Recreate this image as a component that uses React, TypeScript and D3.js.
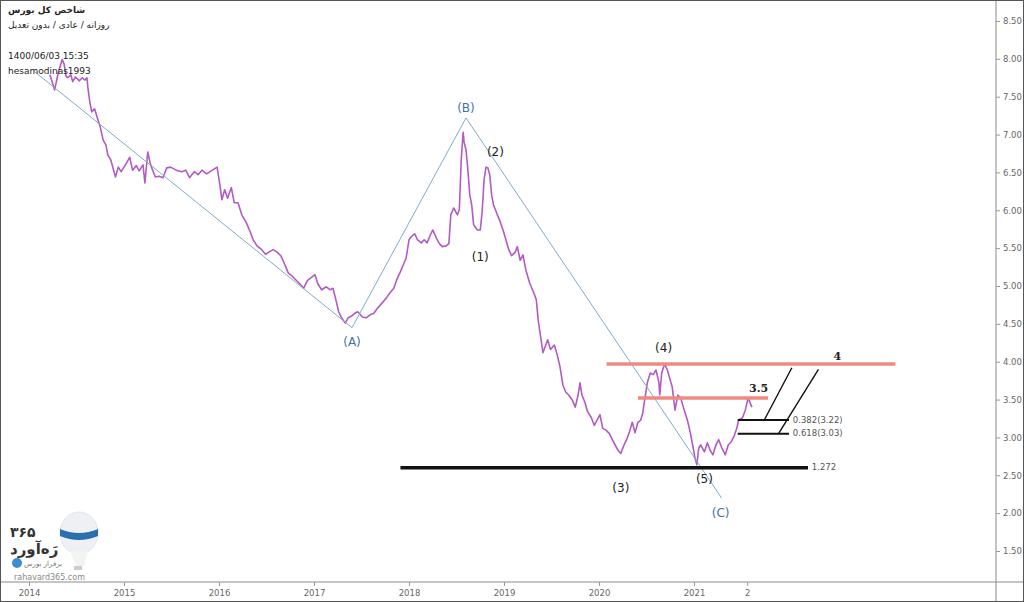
import { useEffect, useRef } from 'react';
import * as d3 from 'd3';

// price series (decimal year, index value in millions)
const years = [
  2014.22, 2014.27, 2014.31, 2014.35, 2014.37, 2014.39, 2014.41, 2014.44, 2014.46, 2014.49,
  2014.53, 2014.56, 2014.59, 2014.61, 2014.62, 2014.64, 2014.66, 2014.69, 2014.72, 2014.75,
  2014.78, 2014.81, 2014.83, 2014.86, 2014.91, 2014.94, 2014.97, 2015.01, 2015.06, 2015.09,
  2015.13, 2015.16, 2015.2, 2015.22, 2015.25, 2015.28, 2015.33, 2015.37, 2015.41, 2015.45,
  2015.49, 2015.55, 2015.61, 2015.65, 2015.69, 2015.74, 2015.78, 2015.82, 2015.87, 2015.93,
  2015.98, 2016.01, 2016.03, 2016.06, 2016.09, 2016.13, 2016.16, 2016.2, 2016.24, 2016.29,
  2016.33, 2016.36, 2016.4, 2016.45, 2016.49, 2016.53, 2016.57, 2016.61, 2016.65, 2016.68,
  2016.73, 2016.77, 2016.81, 2016.85, 2016.89, 2016.93, 2016.97, 2017.01, 2017.04, 2017.08,
  2017.13, 2017.17, 2017.2, 2017.23, 2017.26, 2017.29, 2017.33, 2017.36, 2017.39, 2017.43,
  2017.46, 2017.51, 2017.55, 2017.59, 2017.63, 2017.67, 2017.72, 2017.76, 2017.8, 2017.84,
  2017.87, 2017.91, 2017.94, 2017.97, 2018.0, 2018.03, 2018.06, 2018.09, 2018.13, 2018.16,
  2018.19, 2018.22, 2018.25, 2018.29, 2018.32, 2018.35, 2018.39, 2018.42, 2018.44, 2018.47,
  2018.51, 2018.53, 2018.55, 2018.57, 2018.58, 2018.6, 2018.62, 2018.64, 2018.66, 2018.68,
  2018.72, 2018.75, 2018.77, 2018.79, 2018.81, 2018.83, 2018.85, 2018.87, 2018.89, 2018.93,
  2018.96, 2018.99, 2019.02, 2019.05, 2019.08, 2019.12, 2019.14, 2019.17, 2019.2, 2019.23,
  2019.27, 2019.31, 2019.34, 2019.36, 2019.39, 2019.41, 2019.44, 2019.46, 2019.49, 2019.53,
  2019.56, 2019.59, 2019.62, 2019.65, 2019.68, 2019.72, 2019.75, 2019.78, 2019.8, 2019.82,
  2019.85, 2019.88, 2019.92, 2019.95, 2019.98, 2020.01, 2020.04, 2020.07, 2020.11, 2020.14,
  2020.17, 2020.2, 2020.23, 2020.26, 2020.29, 2020.32, 2020.35, 2020.38, 2020.41, 2020.44,
  2020.46, 2020.48, 2020.51, 2020.54, 2020.57, 2020.6, 2020.63, 2020.64, 2020.66, 2020.69,
  2020.72, 2020.74, 2020.77, 2020.8, 2020.83, 2020.86, 2020.89, 2020.93, 2020.96, 2020.99,
  2021.01, 2021.03, 2021.05, 2021.07, 2021.11, 2021.14, 2021.17, 2021.2, 2021.23, 2021.26,
  2021.29, 2021.33, 2021.36, 2021.39, 2021.42, 2021.45, 2021.47, 2021.51, 2021.54, 2021.57,
  2021.59, 2021.61,
];
const prices = [
  7.79, 7.59, 7.83, 7.99, 7.93, 7.77, 7.75, 7.79, 7.7, 7.76,
  7.71, 7.75, 7.72, 7.75, 7.62, 7.43, 7.3, 7.34, 7.22, 7.1,
  6.93, 6.86, 6.73, 6.67, 6.44, 6.57, 6.51, 6.59, 6.7, 6.53,
  6.59, 6.52, 6.6, 6.36, 6.77, 6.6, 6.44, 6.45, 6.43, 6.56,
  6.57, 6.53, 6.51, 6.53, 6.43, 6.51, 6.47, 6.53, 6.48, 6.53,
  6.57, 6.33, 6.14, 6.27, 6.16, 6.3, 6.1, 6.1, 5.94, 5.83,
  5.71, 5.61, 5.53, 5.48, 5.42, 5.45, 5.48, 5.45, 5.4, 5.32,
  5.17, 5.13, 5.08, 5.03, 4.97, 5.07, 5.11, 5.15, 5.03, 4.95,
  4.99, 4.95, 4.97, 4.82, 4.66, 4.58, 4.51, 4.58, 4.6, 4.64,
  4.66, 4.59, 4.58, 4.62, 4.64, 4.71, 4.78, 4.84, 4.91, 4.97,
  5.08, 5.19, 5.28, 5.37, 5.61, 5.66, 5.69, 5.61, 5.57, 5.61,
  5.57, 5.66, 5.74, 5.63, 5.56, 5.52, 5.53, 5.56, 5.94, 6.03,
  5.94, 6.01, 6.67, 7.03, 6.9, 6.8, 6.53, 6.2, 6.07, 5.81,
  5.74, 5.74, 5.98, 6.4, 6.57, 6.56, 6.47, 6.2, 6.07, 5.94,
  5.85, 5.74, 5.61, 5.48, 5.4, 5.45, 5.52, 5.34, 5.41, 5.21,
  5.04, 4.92, 4.82, 4.55, 4.29, 4.12, 4.22, 4.29, 4.16, 4.22,
  4.09, 3.93, 3.69, 3.6, 3.56, 3.49, 3.4, 3.56, 3.72, 3.56,
  3.47, 3.34, 3.26, 3.16, 3.23, 3.3, 3.12, 3.1, 3.05, 2.97,
  2.9, 2.83, 2.79, 2.89, 2.97, 3.07, 3.2, 3.06, 3.2, 3.23,
  3.32, 3.49, 3.73, 3.85, 3.83, 3.89, 3.73, 3.56, 3.85, 3.97,
  3.89, 3.8, 3.67, 3.36, 3.56, 3.52, 3.39, 3.23, 3.07, 2.87,
  2.73, 2.64, 2.86, 2.9, 2.81, 2.93, 2.83, 2.77, 2.9, 2.97,
  2.87, 2.77, 2.9, 2.94, 3.01, 3.12, 3.23, 3.26, 3.36, 3.52,
  3.46, 3.4,
];

// Elliott ABC wave lines
const waveYears = [2014.06, 2017.4, 2018.6, 2021.29];
const waveValues = [7.83, 4.45, 7.22, 2.2];

// horizontal levels [fromYear, toYear, value]
const redLevels = [[2020.08, 2023.12, 3.97], [2020.41, 2021.78, 3.52]];
const blackLevels = [[2017.91, 2022.2, 2.6]];
const fibLevels = [[2021.46, 2022.0, 3.23], [2021.46, 2022.0, 3.05]];
const fibDiagonals = [[2021.74, 3.23, 2022.03, 3.92], [2021.89, 3.05, 2022.31, 3.9]];

const waveLabels = ['(1)', '(2)', '(3)', '(4)', '(5)'];
const waveLabelYears = [2018.75, 2018.91, 2020.23, 2020.68, 2021.11];
const waveLabelValues = [5.37, 6.76, 2.33, 4.17, 2.44];
const abcLabels = ['(A)', '(B)', '(C)'];
const abcLabelYears = [2017.4, 2018.6, 2021.28];
const abcLabelValues = [4.25, 7.35, 1.99];

const levelTexts = ['0.382(3.22)', '0.618(3.03)', '1.272'];
const levelTextYears = [2022.04, 2022.04, 2022.24];
const levelTextValues = [3.23, 3.05, 2.6];

const yTicks = [1.5, 2, 2.5, 3, 3.5, 4, 4.5, 5, 5.5, 6, 6.5, 7, 7.5, 8, 8.5];
const xTicks = [2014, 2015, 2016, 2017, 2018, 2019, 2020, 2021, 2021.56];
const xTickLabels = ['2014', '2015', '2016', '2017', '2018', '2019', '2020', '2021', '2'];

const W = 1024;
const H = 602;

const App = () => {
  const ref = useRef<SVGSVGElement>(null);

  useEffect(() => {
    const svg = d3.select(ref.current);
    svg.selectAll('*').remove();

    const x = d3.scaleLinear().domain([2015, 2021]).range([124, 694]);
    const y = d3.scaleLinear().domain([1.5, 8.5]).range([551, 21]);

    svg.append('rect').attr('x', 0).attr('y', 0).attr('width', W).attr('height', H).attr('fill', '#fff');

    // axes separators
    svg.append('line').attr('x1', 996).attr('x2', 996).attr('y1', 0).attr('y2', H).attr('stroke', '#8a8a8a');
    svg.append('line').attr('x1', 0).attr('x2', W).attr('y1', 582).attr('y2', 582).attr('stroke', '#8a8a8a');

    const yAxis = d3.axisRight(y).tickValues(yTicks).tickFormat(d3.format('.2f')).tickSize(4).tickPadding(3);
    const gy = svg.append('g').attr('transform', 'translate(996,0)').call(yAxis);
    gy.select('.domain').remove();
    gy.selectAll('line').attr('stroke', '#999');
    gy.selectAll('text').attr('fill', '#666').style('font-size', '8.5px').style('font-family', 'DejaVu Sans, sans-serif');

    const xAxis = d3.axisBottom(x).tickValues(xTicks).tickFormat((d, i) => xTickLabels[i]).tickSize(4).tickPadding(4);
    const gx = svg.append('g').attr('transform', 'translate(0,582)').call(xAxis);
    gx.select('.domain').remove();
    gx.selectAll('line').attr('stroke', '#999');
    gx.selectAll('text').attr('fill', '#666').style('font-size', '8.5px').style('font-family', 'DejaVu Sans, sans-serif');

    // price line
    const line = d3.line<number>().x((d, i) => x(years[i])).y((d) => y(d)).curve(d3.curveLinear);
    svg.append('path').attr('d', line(prices)).attr('fill', 'none').attr('stroke', '#b15bc3').attr('stroke-width', 1.6).attr('stroke-linejoin', 'round');

    // wave lines
    const wline = d3.line<number>().x((d, i) => x(waveYears[i])).y((d) => y(d));
    svg.append('path').attr('d', wline(waveValues)).attr('fill', 'none').attr('stroke', '#82abc9').attr('stroke-width', 1);

    svg.selectAll('.red').data(redLevels).enter().append('line')
      .attr('x1', (d) => x(d[0])).attr('x2', (d) => x(d[1]))
      .attr('y1', (d) => y(d[2])).attr('y2', (d) => y(d[2]))
      .attr('stroke', '#f08a80').attr('stroke-width', 3.5);

    svg.selectAll('.blk').data(blackLevels).enter().append('line')
      .attr('x1', (d) => x(d[0])).attr('x2', (d) => x(d[1]))
      .attr('y1', (d) => y(d[2])).attr('y2', (d) => y(d[2]))
      .attr('stroke', '#111').attr('stroke-width', 3.5);

    svg.selectAll('.fib').data(fibLevels).enter().append('line')
      .attr('x1', (d) => x(d[0])).attr('x2', (d) => x(d[1]))
      .attr('y1', (d) => y(d[2])).attr('y2', (d) => y(d[2]))
      .attr('stroke', '#111').attr('stroke-width', 2);

    svg.selectAll('.diag').data(fibDiagonals).enter().append('line')
      .attr('x1', (d) => x(d[0])).attr('y1', (d) => y(d[1]))
      .attr('x2', (d) => x(d[2])).attr('y2', (d) => y(d[3]))
      .attr('stroke', '#111').attr('stroke-width', 1.4);

    const font = 'DejaVu Sans, sans-serif';
    waveLabels.forEach((t, i) => {
      svg.append('text').text(t).attr('x', x(waveLabelYears[i])).attr('y', y(waveLabelValues[i]))
        .attr('text-anchor', 'middle').attr('dominant-baseline', 'middle')
        .attr('fill', '#222').style('font-size', '12px').style('font-family', font);
    });
    abcLabels.forEach((t, i) => {
      svg.append('text').text(t).attr('x', x(abcLabelYears[i])).attr('y', y(abcLabelValues[i]))
        .attr('text-anchor', 'middle').attr('dominant-baseline', 'middle')
        .attr('fill', '#3f73a3').style('font-size', '12px').style('font-family', font);
    });
    levelTexts.forEach((t, i) => {
      svg.append('text').text(t).attr('x', x(levelTextYears[i])).attr('y', y(levelTextValues[i]))
        .attr('dominant-baseline', 'middle')
        .attr('fill', '#555').style('font-size', '8.5px').style('font-family', font);
    });
    svg.append('text').text('4').attr('x', x(2022.51)).attr('y', y(4.06)).attr('text-anchor', 'middle')
      .attr('dominant-baseline', 'middle').attr('fill', '#222').style('font-size', '11px').style('font-weight', 'bold').style('font-family', 'DejaVu Serif, serif');
    svg.append('text').text('3.5').attr('x', x(2021.68)).attr('y', y(3.64)).attr('text-anchor', 'middle')
      .attr('dominant-baseline', 'middle').attr('fill', '#222').style('font-size', '11px').style('font-weight', 'bold').style('font-family', 'DejaVu Serif, serif');

    // header texts
    const header = [
      ['شاخص کل بورس', 13, 'bold'],
      ['روزانه / عادی / بدون تعدیل', 28, 'normal'],
      ['1400/06/03 15:35', 59, 'normal'],
      ['hesamodinas1993', 74, 'normal'],
    ];
    header.forEach(([t, yy, fw]) => {
      svg.append('text').text(t as string).attr('x', 8).attr('y', yy as number)
        .attr('fill', '#222').style('font-size', '9px').style('font-weight', fw as string).style('font-family', font);
    });

    // watermark logo
    const logo = svg.append('g');
    logo.append('ellipse').attr('cx', 79).attr('cy', 533).attr('rx', 19).attr('ry', 21).attr('fill', '#eef0f3').attr('stroke', '#dfe3e8');
    logo.append('path').attr('d', 'M60,529 Q79,537 98,529 L98,536 Q79,544 60,536 Z').attr('fill', '#2a6fb0');
    logo.append('path').attr('d', 'M70,551 L76,566 L84,566 L88,551 Z').attr('fill', '#f2f3f5');
    logo.append('rect').attr('x', 74).attr('y', 566).attr('width', 8).attr('height', 4).attr('fill', '#ccc');
    logo.append('text').text('۳۶۵').attr('x', 10).attr('y', 537).attr('fill', '#333').style('font-size', '14px').style('font-weight', 'bold').style('font-family', font);
    logo.append('text').text('رَه‌آورد').attr('x', 10).attr('y', 554).attr('fill', '#333').style('font-size', '15px').style('font-weight', 'bold').style('font-family', font);
    logo.append('circle').attr('cx', 17).attr('cy', 563).attr('r', 5).attr('fill', '#3b8fd0');
    logo.append('text').text('برفراز بورس').attr('x', 24).attr('y', 566).attr('fill', '#777').style('font-size', '7px').style('font-family', font);
    logo.append('text').text('rahavard365.com').attr('x', 14).attr('y', 580).attr('fill', '#888').style('font-size', '8px').style('font-family', font);

    // frame
    svg.append('rect').attr('x', 0.5).attr('y', 0.5).attr('width', W - 1).attr('height', H - 1).attr('fill', 'none').attr('stroke', '#555');
  }, []);

  return (
    <svg ref={ref} width={W} height={H} style={{ position: 'absolute', left: 0, top: 0, display: 'block' }} />
  );
};

export default App;
